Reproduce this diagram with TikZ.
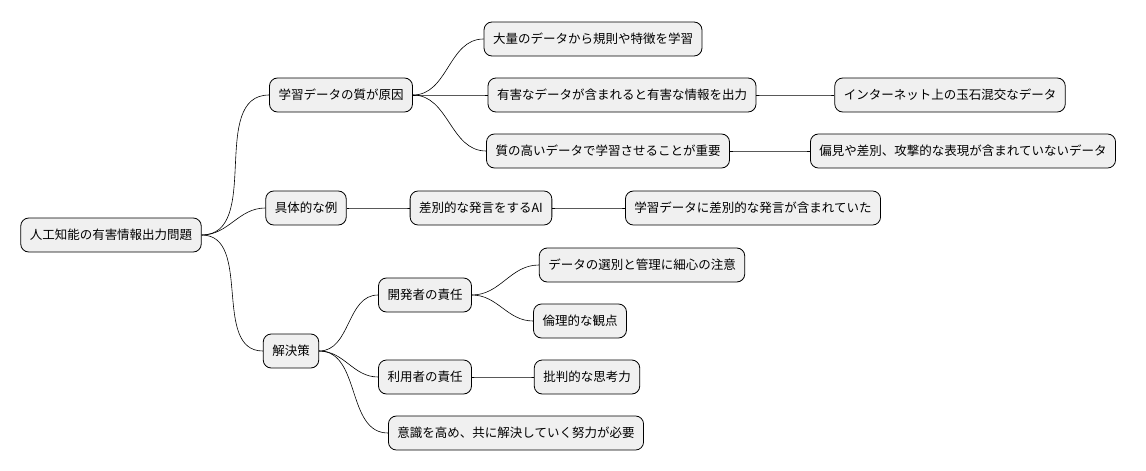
\documentclass[tikz,border=0pt]{standalone}
\usepackage{fontspec}
\setmainfont{Noto Sans CJK JP}
\usetikzlibrary{positioning}

\tikzset{
  topic/.style = {draw, line width=0.8pt, rounded corners=8pt, fill=black!6,
                  minimum height=34pt, inner xsep=9pt, font=\fontsize{12.5}{15}\selectfont},
  branch/.style = {line width=0.6pt}
}

\begin{document}
\begin{tikzpicture}[x=1pt, y=-1pt]
\useasboundingbox (0,0) rectangle (1146,471);
% nodes
\node[topic] (root) at (111,235) {人工知能の有害情報出力問題};
\node[topic] (cause) at (341,95) {学習データの質が原因};
\node[topic] (example) at (306,208) {具体的な例};
\node[topic] (solve) at (291,351) {解決策};

\node[topic] (learn) at (593,39) {大量のデータから規則や特徴を学習};
\node[topic] (harm) at (622,95) {有害なデータが含まれると有害な情報を出力};
\node[topic] (quality) at (608,151) {質の高いデータで学習させることが重要};
\node[topic] (net) at (950,95) {インターネット上の玉石混交なデータ};
\node[topic] (bias) at (963,151) {偏見や差別、攻撃的な表現が含まれていないデータ};

\node[topic] (ai) at (481,208) {差別的な発言をするAI};
\node[topic] (contain) at (753,208) {学習データに差別的な発言が含まれていた};

\node[topic] (dev) at (425,295) {開発者の責任};
\node[topic] (select) at (642,265) {データの選別と管理に細心の注意};
\node[topic] (ethic) at (580,321) {倫理的な観点};
\node[topic] (user) at (425,377) {利用者の責任};
\node[topic] (think) at (587,377) {批判的な思考力};
\node[topic] (aware) at (516,433) {意識を高め、共に解決していく努力が必要};

% branches
\foreach \a/\b in {root/cause, root/example, root/solve,
                   cause/learn, cause/harm, cause/quality,
                   harm/net, quality/bias,
                   example/ai, ai/contain,
                   solve/dev, solve/user, solve/aware,
                   dev/select, dev/ethic, user/think}
  \draw[branch] (\a.east) to[out=0, in=180] (\b.west);
\end{tikzpicture}
\end{document}
